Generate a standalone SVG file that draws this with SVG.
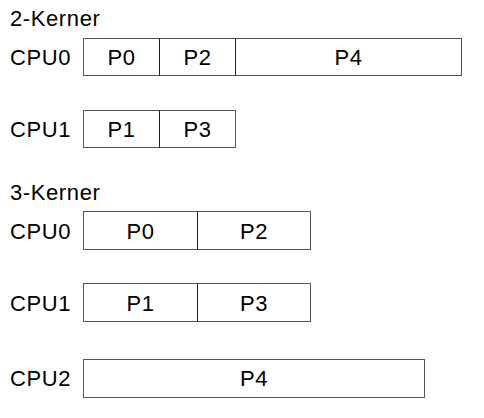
<svg xmlns="http://www.w3.org/2000/svg" width="484" height="418" viewBox="0 0 484 418">
<style>
text{font-family:"Liberation Sans",Arial,sans-serif;font-size:22px;fill:#000;letter-spacing:0.6px}
.c{text-anchor:middle}
rect{fill:#fff;stroke:#555;stroke-width:1}
line{stroke:#222;stroke-width:1}
</style>
<rect x="0" y="0" width="484" height="418" style="stroke:none"/>
<text x="10" y="26">2-Kerner</text>
<text x="10" y="200">3-Kerner</text>
<g id="k2-cpu0">
<text x="10" y="64.5">CPU0</text>
<rect x="83.5" y="38.5" width="378" height="37"/>
<line x1="159.5" y1="38.5" x2="159.5" y2="75.5"/>
<line x1="235.5" y1="38.5" x2="235.5" y2="75.5"/>
<text class="c" x="121.5" y="64.5">P0</text>
<text class="c" x="197.5" y="64.5">P2</text>
<text class="c" x="348.5" y="64.5">P4</text>
</g>
<g id="k2-cpu1">
<text x="10" y="136.5">CPU1</text>
<rect x="83.5" y="110.5" width="152" height="37"/>
<line x1="159.5" y1="110.5" x2="159.5" y2="147.5"/>
<text class="c" x="121.5" y="136.5">P1</text>
<text class="c" x="197.5" y="136.5">P3</text>
</g>
<g id="k3-cpu0">
<text x="10" y="238.5">CPU0</text>
<rect x="83.5" y="211.5" width="227" height="38"/>
<line x1="197.5" y1="211.5" x2="197.5" y2="249.5"/>
<text class="c" x="140.5" y="238.5">P0</text>
<text class="c" x="254" y="238.5">P2</text>
</g>
<g id="k3-cpu1">
<text x="10" y="310.5">CPU1</text>
<rect x="83.5" y="283.5" width="227" height="38"/>
<line x1="197.5" y1="283.5" x2="197.5" y2="321.5"/>
<text class="c" x="140.5" y="310.5">P1</text>
<text class="c" x="254" y="310.5">P3</text>
</g>
<g id="k3-cpu2">
<text x="10" y="386">CPU2</text>
<rect x="83.5" y="359.5" width="341" height="38"/>
<text class="c" x="254" y="386">P4</text>
</g>
<g id="connectors"></g>
</svg>
